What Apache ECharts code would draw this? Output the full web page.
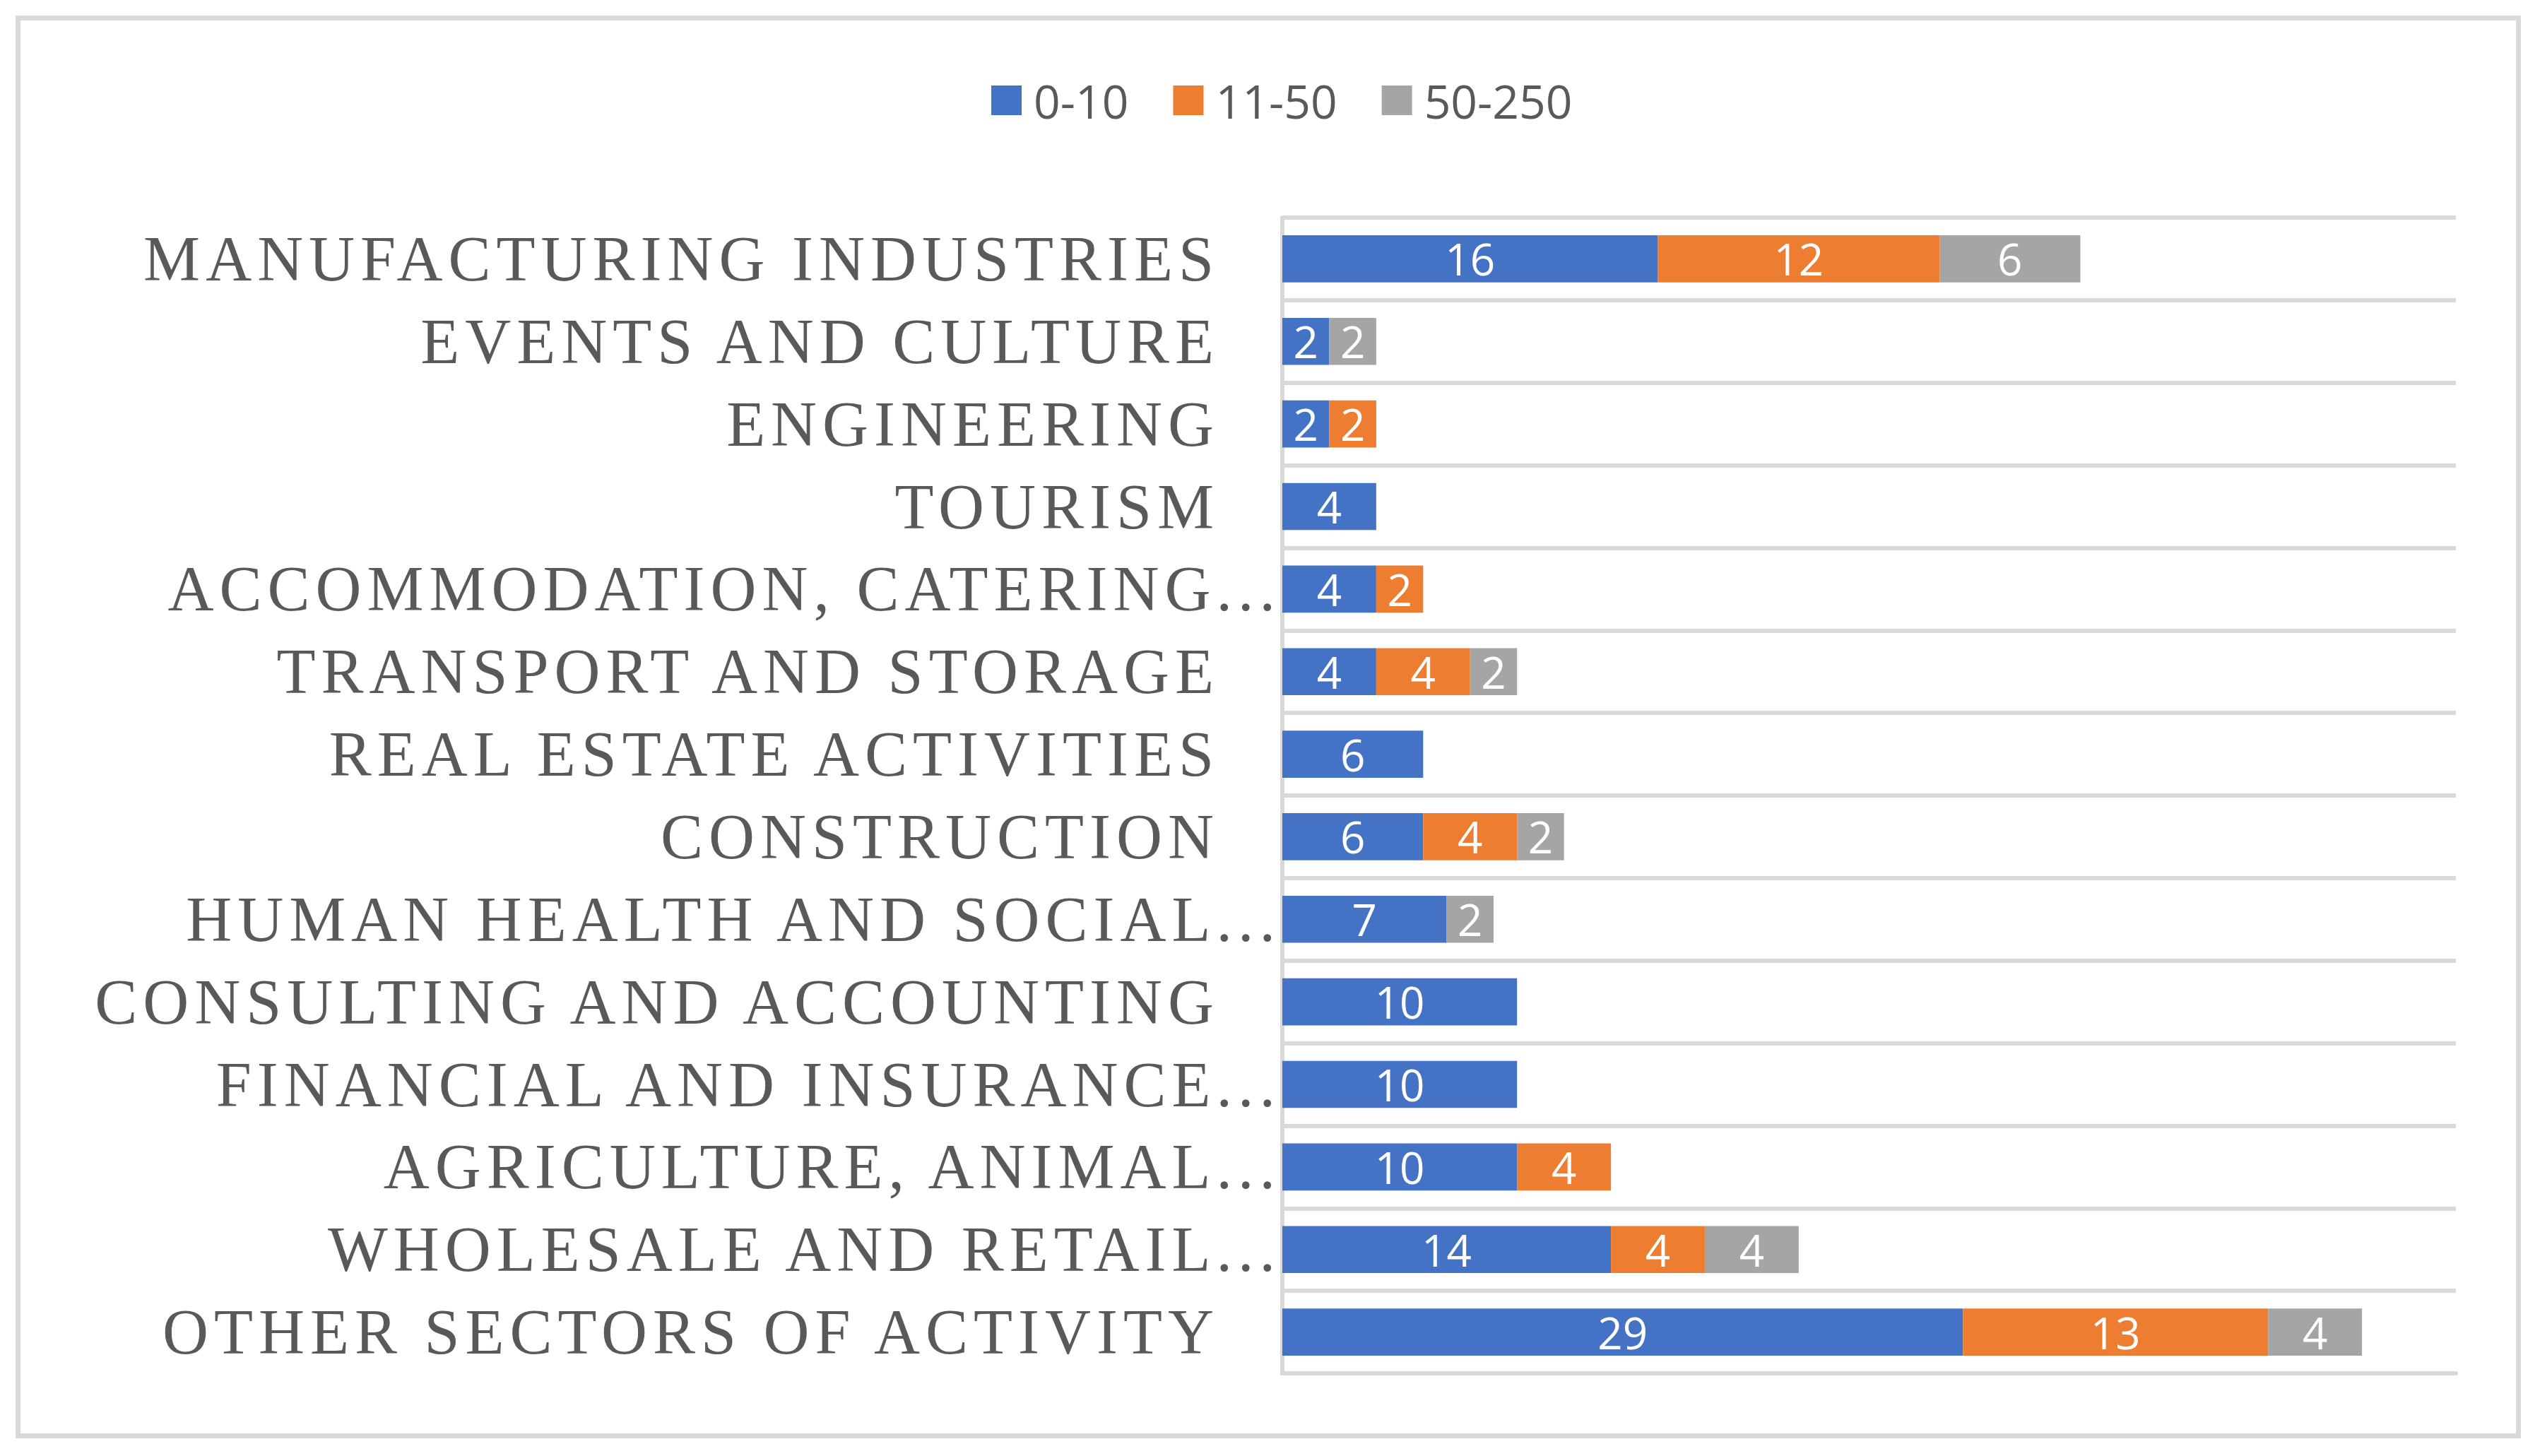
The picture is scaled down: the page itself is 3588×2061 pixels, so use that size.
<!DOCTYPE html>
<html>
<head>
<meta charset="utf-8">
<title>Companies by sector and size</title>
<script src="https://cdn.jsdelivr.net/npm/echarts@6/dist/echarts.min.js"></script>
<style>
	* { margin: 0; padding: 0; }
	html, body { width: 100%; height: 100%; background: #fff; overflow: hidden; }
	#main { width: 3588px; height: 2061px; }
	/* tracked serif caps for the category labels */
	#main text[style*="Liberation Serif"] { letter-spacing: 8px; }
</style>
</head>
<body>
<div id="main"></div>
<script>
	let categories = [
		'MANUFACTURING INDUSTRIES',
		'EVENTS AND CULTURE',
		'ENGINEERING',
		'TOURISM',
		'ACCOMMODATION, CATERING...',
		'TRANSPORT AND STORAGE',
		'REAL ESTATE ACTIVITIES',
		'CONSTRUCTION',
		'HUMAN HEALTH AND SOCIAL...',
		'CONSULTING AND ACCOUNTING',
		'FINANCIAL AND INSURANCE...',
		'AGRICULTURE, ANIMAL...',
		'WHOLESALE AND RETAIL...',
		'OTHER SECTORS OF ACTIVITY'
	];
	let seriesNames = ['0-10', '11-50', '50-250'];
	let small = [16, 2, 2, 4, 4, 4, 6, 6, 7, 10, 10, 10, 14, 29];
	let medium = [12, '-', 2, '-', 2, 4, '-', 4, '-', '-', '-', 4, 4, 13];
	let large = [6, 2, '-', '-', '-', 2, '-', 2, 2, '-', '-', '-', 4, 4];
	let myColor = ['#4472C4', '#ED7D31', '#A5A5A5'];

	let myChart = echarts.init(document.getElementById('main'), null, { renderer: 'svg' });

	// labels cut by Excel ("...") sit closer to the axis
	let yData = categories.map(function(c) {
		return c.slice(-3) === '...' ? { value: c, textStyle: { padding: [0, 0, 14, 0] } } : c;
	});

	function barSeries(name, data, color) {
		return {
			name: name,
			type: 'bar',
			stack: 'total',
			data: data,
			barCategoryGap: '43%',
			itemStyle: { color: color },
			label: {
				show: true,
				position: 'inside',
				color: '#ffffff',
				fontFamily: 'Open Sans',
				fontSize: 62
			},
			emphasis: { disabled: true }
		};
	}

	let option = {
		backgroundColor: '#ffffff',
		animation: false,
		graphic: [{
			type: 'rect',
			shape: { x: 25.5, y: 25.5, width: 3539, height: 2007 },
			style: { fill: 'none', stroke: '#d9d9d9', lineWidth: 7 },
			silent: true
		}],
		legend: {
			top: 104,
			left: 1398,
			itemWidth: 43,
			itemHeight: 42,
			itemGap: 63,
			icon: 'rect',
			textStyle: {
				color: '#595959',
				fontFamily: 'Open Sans',
				fontSize: 66,
				padding: [0, 0, 0, 12]
			},
			data: seriesNames
		},
		grid: {
			left: 1815,
			right: 112,
			top: 308,
			bottom: 117,
			containLabel: false,
			outerBoundsMode: 'none'
		},
		xAxis: {
			type: 'value',
			min: 0,
			max: 50,
			interval: 5,
			axisLabel: { show: false },
			axisTick: { show: false },
			axisLine: { show: true, lineStyle: { color: '#d9d9d9', width: 6 } },
			splitLine: { show: false }
		},
		yAxis: {
			type: 'category',
			inverse: true,
			data: yData,
			axisTick: { show: false },
			axisLine: { show: true, lineStyle: { color: '#d9d9d9', width: 6 } },
			splitLine: { show: true, lineStyle: { color: '#d9d9d9', width: 6 } },
			axisLabel: {
				interval: 0,
				margin: 2,
				padding: [0, 87, 14, 0],
				color: '#595959',
				fontFamily: 'Liberation Serif',
				fontSize: 90
			}
		},
		series: [
			barSeries(seriesNames[0], small, myColor[0]),
			barSeries(seriesNames[1], medium, myColor[1]),
			barSeries(seriesNames[2], large, myColor[2])
		]
	};
	myChart.setOption(option);
</script>
</body>
</html>
